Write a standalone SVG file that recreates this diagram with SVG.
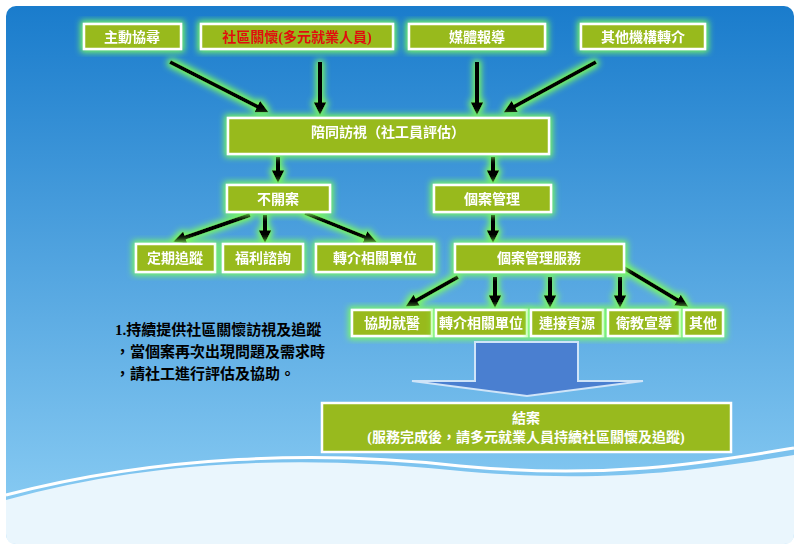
<svg xmlns="http://www.w3.org/2000/svg" width="800" height="550" viewBox="0 0 800 550">
<defs>
<linearGradient id="bg" x1="0" y1="0" x2="0" y2="1"><stop offset="0" stop-color="#1a7ccc"/><stop offset="1" stop-color="#8fd0f5"/></linearGradient>
<filter id="glow" x="-30%" y="-30%" width="160%" height="160%"><feMorphology in="SourceAlpha" operator="dilate" radius="2" result="d"/><feGaussianBlur in="d" stdDeviation="3" result="b"/><feFlood flood-color="#7dff5a"/><feComposite in2="b" operator="in" result="g"/><feMerge><feMergeNode in="g"/><feMergeNode in="SourceGraphic"/></feMerge></filter>
<marker id="ah" viewBox="0 0 10 10" refX="6" refY="5" markerWidth="3.2" markerHeight="3.2" orient="auto"><path d="M0,0 L10,5 L0,10 z" fill="#000"/></marker>
<style>
.box{fill:#98ba1e;stroke:#fff;stroke-width:2.5}
.t{font-family:"Liberation Serif","Noto Sans CJK TC",serif;font-size:14px;fill:#fff;font-weight:bold;text-anchor:middle;dominant-baseline:central}
.c line{stroke:#000;stroke-width:4;marker-end:url(#ah)}
.note{font-family:"Liberation Serif","Noto Sans CJK TC",serif;font-size:15px;fill:#000;font-weight:bold}
</style>
</defs>
<rect width="800" height="550" fill="#fff"/>
<rect x="6" y="6" width="788" height="538" rx="10" fill="url(#bg)"/>
<path d="M6,500 C150,460 300,455 450,470 C600,485 700,470 794,455 L794,534 Q794,544 784,544 L16,544 Q6,544 6,534 Z" fill="#eaf6fd"/>
<path d="M6,495 C160,455 320,450 460,466 C610,480 710,462 794,448" fill="none" stroke="#fff" stroke-width="3"/>
<g class="c" filter="url(#glow)">
<line x1="170" y1="62" x2="264" y2="110"/>
<line x1="320" y1="62" x2="320" y2="110"/>
<line x1="477" y1="62" x2="477" y2="110"/>
<line x1="596" y1="62" x2="508" y2="110"/>
<line x1="278" y1="157" x2="278" y2="178"/>
<line x1="493" y1="157" x2="493" y2="178"/>
<line x1="250" y1="215" x2="178" y2="240"/>
<line x1="265" y1="215" x2="265" y2="238"/>
<line x1="305" y1="213" x2="372" y2="240"/>
<line x1="493" y1="215" x2="493" y2="238"/>
<line x1="458" y1="277" x2="410" y2="304"/>
<line x1="495" y1="277" x2="495" y2="303"/>
<line x1="550" y1="277" x2="550" y2="303"/>
<line x1="620" y1="277" x2="620" y2="303"/>
<line x1="624" y1="268" x2="684" y2="304"/>
</g>
<g id="n1" filter="url(#glow)"><rect class="box" x="84" y="24" width="97" height="25"/><text class="t" x="132" y="37">主動協尋</text></g>
<g id="n2" filter="url(#glow)"><rect class="box" x="201" y="24" width="192" height="25"/><text class="t" x="297" y="37" style="fill:#e01010">社區關懷(多元就業人員)</text></g>
<g id="n3" filter="url(#glow)"><rect class="box" x="409" y="24" width="136" height="25"/><text class="t" x="477" y="37">媒體報導</text></g>
<g id="n4" filter="url(#glow)"><rect class="box" x="581" y="24" width="124" height="25"/><text class="t" x="643" y="37">其他機構轉介</text></g>
<g id="n5" filter="url(#glow)"><rect class="box" x="228" y="118" width="321" height="36"/><text class="t" x="388" y="132">陪同訪視（社工員評估）</text></g>
<g id="n6" filter="url(#glow)"><rect class="box" x="227" y="185" width="103" height="27"/><text class="t" x="278" y="199">不開案</text></g>
<g id="n7" filter="url(#glow)"><rect class="box" x="434" y="185" width="117" height="27"/><text class="t" x="492" y="199">個案管理</text></g>
<g id="n8" filter="url(#glow)"><rect class="box" x="136" y="244" width="79" height="28"/><text class="t" x="175" y="258">定期追蹤</text></g>
<g id="n9" filter="url(#glow)"><rect class="box" x="223" y="244" width="80" height="28"/><text class="t" x="263" y="258">福利諮詢</text></g>
<g id="n10" filter="url(#glow)"><rect class="box" x="316" y="244" width="118" height="28"/><text class="t" x="375" y="258">轉介相關單位</text></g>
<g id="n11" filter="url(#glow)"><rect class="box" x="455" y="244" width="169" height="28"/><text class="t" x="539" y="258">個案管理服務</text></g>
<g id="n12" filter="url(#glow)"><rect class="box" x="352" y="310" width="80" height="26"/><text class="t" x="392" y="323">協助就醫</text></g>
<g id="n13" filter="url(#glow)"><rect class="box" x="436" y="310" width="91" height="26"/><text class="t" x="481" y="323">轉介相關單位</text></g>
<g id="n14" filter="url(#glow)"><rect class="box" x="531" y="310" width="72" height="26"/><text class="t" x="567" y="323">連接資源</text></g>
<g id="n15" filter="url(#glow)"><rect class="box" x="608" y="310" width="72" height="26"/><text class="t" x="644" y="323">衛教宣導</text></g>
<g id="n16" filter="url(#glow)"><rect class="box" x="684" y="310" width="39" height="26"/><text class="t" x="703" y="323">其他</text></g>
<g id="bigarrow"><path d="M475,342 H578 V381 H643 L527,396 L412,381 H475 Z" fill="#4a7fd0" stroke="#cfe4f8" stroke-width="2"/></g>
<g id="n17"><rect class="box" x="322" y="403" width="409" height="49"/><text class="t" x="526" y="418">結案</text><text class="t" x="526" y="437">(服務完成後，請多元就業人員持續社區關懷及追蹤)</text></g>
<g id="note"><text class="note" x="115" y="335">1.持續提供社區關懷訪視及追蹤</text><text class="note" x="115" y="357">，當個案再次出現問題及需求時</text><text class="note" x="115" y="379">，請社工進行評估及協助。</text></g>
</svg>
